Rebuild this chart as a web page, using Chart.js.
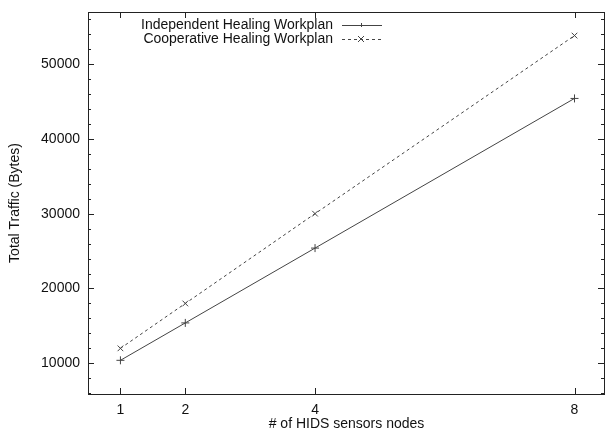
<!DOCTYPE html>
<html>
<head>
<meta charset="utf-8">
<script src="https://cdn.jsdelivr.net/npm/chart.js@4"></script>
<style>
  html, body { margin: 0; padding: 0; background: #fff; overflow: hidden; }
  canvas { display: block; }
</style>
</head>
<body>
<canvas id="traffic" width="605" height="434"></canvas>
<script>
const nodes = [1, 2, 4, 8];
const independent = [10400, 15400, 25400, 45400];
const cooperative = [12000, 18000, 30000, 53800];
const yTicks = [10000, 20000, 30000, 40000, 50000];
const yMinorStep = 2000;

const FONT = 'Liberation Sans, Arial, sans-serif';
const INK = '#444';

// gnuplot style frame: box, inward ticks on all sides, legend top-left
const gnuplotFrame = {
    id: 'gnuplotFrame',
    afterDraw(chart) {
        const ctx = chart.ctx;
        const a = chart.chartArea;
        const x = chart.scales.x, y = chart.scales.y;
        ctx.save();
        ctx.strokeStyle = '#222';
        ctx.lineWidth = 1;
        ctx.strokeRect(Math.round(a.left) + 0.5, Math.round(a.top) + 0.5,
            Math.round(a.right - a.left) - 1, Math.round(a.bottom - a.top));

        ctx.beginPath();
        for (let v = Math.ceil(y.min / yMinorStep) * yMinorStep; v <= y.max; v += yMinorStep) {
            const py = Math.round(y.getPixelForValue(v)) + 0.5;
            const len = v % 10000 === 0 ? 6 : 3;
            ctx.moveTo(a.left, py); ctx.lineTo(a.left + len, py);
            ctx.moveTo(a.right - 1, py); ctx.lineTo(a.right - 1 - len, py);
        }
        nodes.forEach(n => {
            const px = Math.round(x.getPixelForValue(n)) + 0.5;
            ctx.moveTo(px, a.bottom); ctx.lineTo(px, a.bottom - 6);
            ctx.moveTo(px, a.top); ctx.lineTo(px, a.top + 6);
        });
        ctx.stroke();

        // legend
        ctx.font = '14px ' + FONT;
        ctx.fillStyle = '#111';
        ctx.textAlign = 'right';
        ctx.textBaseline = 'middle';
        chart.data.datasets.forEach((ds, i) => {
            const ly = 25 + i * 14;
            ctx.fillText(ds.label, 333, ly);
            ctx.strokeStyle = ds.borderColor;
            ctx.setLineDash(ds.borderDash || []);
            ctx.beginPath();
            ctx.moveTo(342, ly + 0.5); ctx.lineTo(382, ly + 0.5);
            ctx.stroke();
            ctx.setLineDash([]);
            ctx.beginPath();
            if (ds.pointStyle === 'cross') {
                ctx.moveTo(361 - 2, ly + 0.5); ctx.lineTo(361 + 2, ly + 0.5);
                ctx.moveTo(361.5, ly - 2); ctx.lineTo(361.5, ly + 2);
            } else {
                ctx.moveTo(358, ly - 3); ctx.lineTo(364, ly + 3);
                ctx.moveTo(364, ly - 3); ctx.lineTo(358, ly + 3);
            }
            ctx.stroke();
        });
        ctx.restore();
    }
};

document.addEventListener('DOMContentLoaded', function () {
    let ctx = document.getElementById('traffic').getContext('2d');
    new Chart(ctx, {
        type: 'line',
        data: {
            datasets: [
                {
                    label: 'Independent Healing Workplan',
                    data: nodes.map((n, i) => ({ x: n, y: independent[i] })),
                    borderColor: INK,
                    borderWidth: 1,
                    pointStyle: 'cross',
                    pointRadius: 4,
                    pointBorderColor: INK,
                    pointBorderWidth: 1,
                    fill: false,
                    tension: 0
                },
                {
                    label: 'Cooperative Healing Workplan',
                    data: nodes.map((n, i) => ({ x: n, y: cooperative[i] })),
                    borderColor: INK,
                    borderWidth: 1,
                    borderDash: [3, 3],
                    pointStyle: 'crossRot',
                    pointRadius: 4,
                    pointBorderColor: INK,
                    pointBorderWidth: 1,
                    fill: false,
                    tension: 0
                }
            ]
        },
        options: {
            responsive: false,
            animation: false,
            layout: { autoPadding: false, padding: { top: 12, right: 0, left: 0, bottom: 0 } },
            plugins: {
                legend: { display: false },
                tooltip: { enabled: false }
            },
            scales: {
                x: {
                    type: 'linear',
                    min: 0.5,
                    max: 8.47,
                    afterBuildTicks: s => { s.ticks = nodes.map(v => ({ value: v })); },
                    afterFit: s => { s.height = 40; s.paddingLeft = 0; s.paddingRight = 0; },
                    grid: { display: false, drawTicks: false },
                    border: { display: false },
                    ticks: {
                        color: '#111',
                        padding: 8,
                        maxRotation: 0,
                        font: { family: FONT, size: 14 }
                    },
                    title: {
                        display: true,
                        text: '# of HIDS sensors nodes',
                        color: '#111',
                        padding: { top: 0, bottom: 1 },
                        font: { family: FONT, size: 14 }
                    }
                },
                y: {
                    min: 5900,
                    max: 56950,
                    afterBuildTicks: s => { s.ticks = yTicks.map(v => ({ value: v })); },
                    afterFit: s => { s.width = 88; s.paddingTop = 0; s.paddingBottom = 0; },
                    grid: { display: false, drawTicks: false },
                    border: { display: false },
                    ticks: {
                        color: '#111',
                        padding: 8,
                        callback: v => String(v),
                        font: { family: FONT, size: 14 }
                    },
                    title: {
                        display: true,
                        text: 'Total Traffic (Bytes)',
                        color: '#111',
                        padding: { top: 7, bottom: 0 },
                        font: { family: FONT, size: 14 }
                    }
                }
            }
        },
        plugins: [gnuplotFrame]
    });
});
</script>
</body>
</html>
